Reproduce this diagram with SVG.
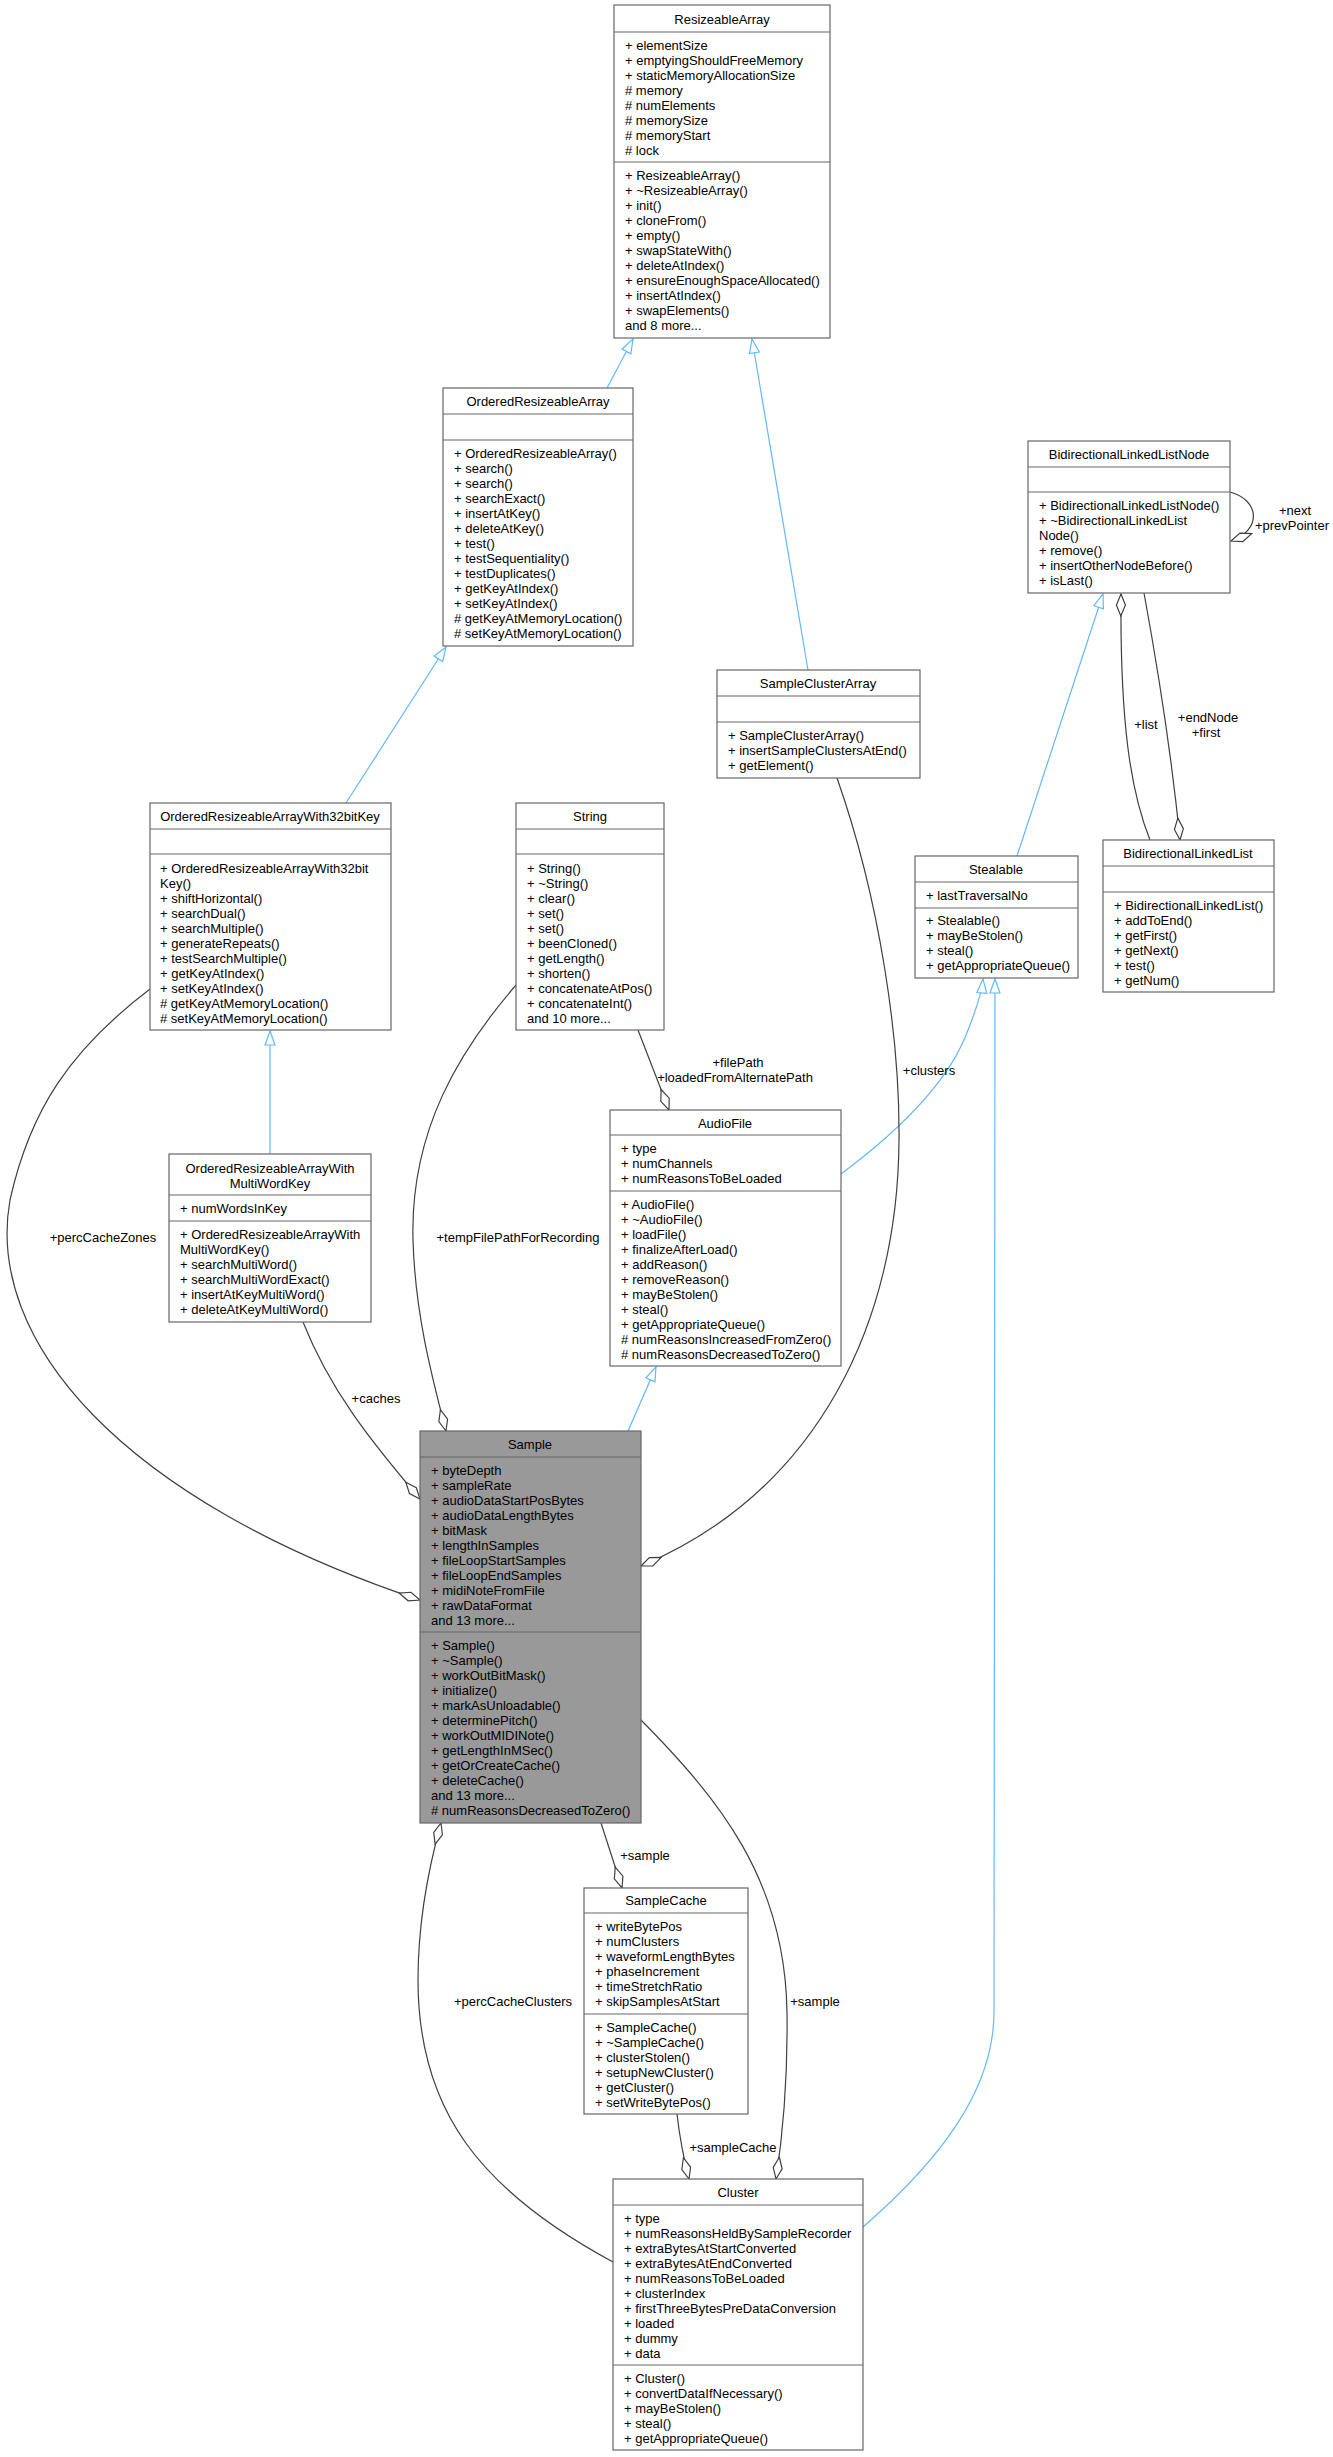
<svg xmlns="http://www.w3.org/2000/svg" width="1333" height="2457" viewBox="0 0 1333 2457">
<style>
text{font-family:"Liberation Sans",Arial,sans-serif;font-size:13px;fill:#000}
.t{text-anchor:middle}
.b{fill:#fff;stroke:#666;stroke-width:1.2}
.g{fill:#999;stroke:#666;stroke-width:1.2}
.s{stroke:#666;stroke-width:1.2}
.e{fill:none;stroke:#404040;stroke-width:1.2}
.i{fill:none;stroke:#63b8ff;stroke-width:1.2}
</style>
<defs>
<marker id="tri" markerUnits="userSpaceOnUse" markerWidth="16" markerHeight="12" viewBox="0 0 16 12" refX="15" refY="6" orient="auto"><path d="M1,1 L15,6 L1,11 Z" fill="#fff" stroke="#63b8ff" stroke-width="1.2"/></marker>
<marker id="dia" markerUnits="userSpaceOnUse" markerWidth="24" markerHeight="12" viewBox="0 0 24 12" refX="23" refY="6" orient="auto"><path d="M1,6 L12,1.5 L23,6 L12,10.5 Z" fill="#fff" stroke="#404040" stroke-width="1.2"/></marker>
</defs>

<g id="connectors">
<path class="i" d="M607,388 L633,339" marker-end="url(#tri)"/>
<path class="i" d="M808,670 L752,339" marker-end="url(#tri)"/>
<path class="i" d="M346,803 L446,647" marker-end="url(#tri)"/>
<path class="i" d="M270,1154 L270,1031" marker-end="url(#tri)"/>
<path class="i" d="M1017,856 L1103,594" marker-end="url(#tri)"/>
<path class="i" d="M628,1431 L656,1367" marker-end="url(#tri)"/>
<path class="i" d="M841,1174 C900,1130 950,1080 968,1030 C978,1005 982,990 983,979" marker-end="url(#tri)"/>
<path class="i" d="M863,2227 C940,2160 994,2090 994,2012 L995,979" marker-end="url(#tri)"/>
<path class="e" d="M1150,840 C1130,790 1120,720 1121,594" marker-end="url(#dia)"/>
<path class="e" d="M1144,593 C1160,680 1172,760 1180,840" marker-end="url(#dia)"/>
<path class="e" d="M1230,492 C1260,500 1262,530 1231,541" marker-end="url(#dia)"/>
<path class="e" d="M638,1030 L669,1110" marker-end="url(#dia)"/>
<path class="e" d="M837,778 C880,900 900,1040 899,1140 C898,1320 820,1490 641,1566" marker-end="url(#dia)"/>
<path class="e" d="M150,989 C70,1050 30,1110 10,1200 C-15,1340 120,1500 420,1600" marker-end="url(#dia)"/>
<path class="e" d="M303,1322 C330,1390 370,1440 420,1499" marker-end="url(#dia)"/>
<path class="e" d="M516,985 C460,1050 410,1130 413,1240 C415,1310 430,1370 446,1431" marker-end="url(#dia)"/>
<path class="e" d="M601,1823 L622,1888" marker-end="url(#dia)"/>
<path class="e" d="M640,1719 C720,1800 785,1880 787,2012 C788,2090 782,2140 776,2179" marker-end="url(#dia)"/>
<path class="e" d="M677,2114 C680,2140 684,2160 689,2179" marker-end="url(#dia)"/>
<path class="e" d="M613,2262 C480,2190 418,2110 418,1980 C418,1920 428,1870 441,1823" marker-end="url(#dia)"/>
<text class="t" x="1146" y="729">+list</text>
<text class="t" x="1208" y="722">+endNode</text>
<text class="t" x="1206" y="737">+first</text>
<text class="t" x="1295" y="515">+next</text>
<text class="t" x="1292" y="530">+prevPointer</text>
<text class="t" x="738" y="1067">+filePath</text>
<text class="t" x="735" y="1082">+loadedFromAlternatePath</text>
<text class="t" x="929" y="1075">+clusters</text>
<text class="t" x="103" y="1242">+percCacheZones</text>
<text class="t" x="376" y="1403">+caches</text>
<text class="t" x="518" y="1242">+tempFilePathForRecording</text>
<text class="t" x="645" y="1860">+sample</text>
<text class="t" x="815" y="2006">+sample</text>
<text class="t" x="733" y="2152">+sampleCache</text>
<text class="t" x="513" y="2006">+percCacheClusters</text>
</g>

<g id="ResizeableArray">
<rect class="b" x="614" y="5" width="216" height="333"/>
<line class="s" x1="614" y1="32" x2="830" y2="32"/><line class="s" x1="614" y1="162" x2="830" y2="162"/>
<text class="t" x="722" y="24">ResizeableArray</text>
<text x="625" y="50">+ elementSize</text><text x="625" y="65">+ emptyingShouldFreeMemory</text><text x="625" y="80">+ staticMemoryAllocationSize</text><text x="625" y="95"># memory</text><text x="625" y="110"># numElements</text><text x="625" y="125"># memorySize</text><text x="625" y="140"># memoryStart</text><text x="625" y="155"># lock</text>
<text x="625" y="180">+ ResizeableArray()</text><text x="625" y="195">+ ~ResizeableArray()</text><text x="625" y="210">+ init()</text><text x="625" y="225">+ cloneFrom()</text><text x="625" y="240">+ empty()</text><text x="625" y="255">+ swapStateWith()</text><text x="625" y="270">+ deleteAtIndex()</text><text x="625" y="285">+ ensureEnoughSpaceAllocated()</text><text x="625" y="300">+ insertAtIndex()</text><text x="625" y="315">+ swapElements()</text><text x="625" y="330">and 8 more...</text>
</g>

<g id="OrderedResizeableArray">
<rect class="b" x="443" y="388" width="190" height="258"/>
<line class="s" x1="443" y1="414" x2="633" y2="414"/><line class="s" x1="443" y1="440" x2="633" y2="440"/>
<text class="t" x="538" y="406">OrderedResizeableArray</text>
<text x="454" y="458">+ OrderedResizeableArray()</text><text x="454" y="473">+ search()</text><text x="454" y="488">+ search()</text><text x="454" y="503">+ searchExact()</text><text x="454" y="518">+ insertAtKey()</text><text x="454" y="533">+ deleteAtKey()</text><text x="454" y="548">+ test()</text><text x="454" y="563">+ testSequentiality()</text><text x="454" y="578">+ testDuplicates()</text><text x="454" y="593">+ getKeyAtIndex()</text><text x="454" y="608">+ setKeyAtIndex()</text><text x="454" y="623"># getKeyAtMemoryLocation()</text><text x="454" y="638"># setKeyAtMemoryLocation()</text>
</g>

<g id="BidirectionalLinkedListNode">
<rect class="b" x="1028" y="441" width="202" height="152"/>
<line class="s" x1="1028" y1="467" x2="1230" y2="467"/><line class="s" x1="1028" y1="492" x2="1230" y2="492"/>
<text class="t" x="1129" y="459">BidirectionalLinkedListNode</text>
<text x="1039" y="510">+ BidirectionalLinkedListNode()</text><text x="1039" y="525">+ ~BidirectionalLinkedList</text><text x="1039" y="540">Node()</text><text x="1039" y="555">+ remove()</text><text x="1039" y="570">+ insertOtherNodeBefore()</text><text x="1039" y="585">+ isLast()</text>
</g>

<g id="SampleClusterArray">
<rect class="b" x="717" y="670" width="203" height="108"/>
<line class="s" x1="717" y1="696" x2="920" y2="696"/><line class="s" x1="717" y1="722" x2="920" y2="722"/>
<text class="t" x="818" y="688">SampleClusterArray</text>
<text x="728" y="740">+ SampleClusterArray()</text><text x="728" y="755">+ insertSampleClustersAtEnd()</text><text x="728" y="770">+ getElement()</text>
</g>

<g id="OrderedResizeableArrayWith32bitKey">
<rect class="b" x="150" y="803" width="241" height="227"/>
<line class="s" x1="150" y1="829" x2="391" y2="829"/><line class="s" x1="150" y1="854" x2="391" y2="854"/>
<text class="t" x="270" y="821">OrderedResizeableArrayWith32bitKey</text>
<text x="160" y="873">+ OrderedResizeableArrayWith32bit</text><text x="160" y="888">Key()</text><text x="160" y="903">+ shiftHorizontal()</text><text x="160" y="918">+ searchDual()</text><text x="160" y="933">+ searchMultiple()</text><text x="160" y="948">+ generateRepeats()</text><text x="160" y="963">+ testSearchMultiple()</text><text x="160" y="978">+ getKeyAtIndex()</text><text x="160" y="993">+ setKeyAtIndex()</text><text x="160" y="1008"># getKeyAtMemoryLocation()</text><text x="160" y="1023"># setKeyAtMemoryLocation()</text>
</g>

<g id="String">
<rect class="b" x="516" y="803" width="148" height="227"/>
<line class="s" x1="516" y1="829" x2="664" y2="829"/><line class="s" x1="516" y1="854" x2="664" y2="854"/>
<text class="t" x="590" y="821">String</text>
<text x="527" y="873">+ String()</text><text x="527" y="888">+ ~String()</text><text x="527" y="903">+ clear()</text><text x="527" y="918">+ set()</text><text x="527" y="933">+ set()</text><text x="527" y="948">+ beenCloned()</text><text x="527" y="963">+ getLength()</text><text x="527" y="978">+ shorten()</text><text x="527" y="993">+ concatenateAtPos()</text><text x="527" y="1008">+ concatenateInt()</text><text x="527" y="1023">and 10 more...</text>
</g>

<g id="BidirectionalLinkedList">
<rect class="b" x="1103" y="840" width="171" height="152"/>
<line class="s" x1="1103" y1="866" x2="1274" y2="866"/><line class="s" x1="1103" y1="892" x2="1274" y2="892"/>
<text class="t" x="1188" y="858">BidirectionalLinkedList</text>
<text x="1114" y="910">+ BidirectionalLinkedList()</text><text x="1114" y="925">+ addToEnd()</text><text x="1114" y="940">+ getFirst()</text><text x="1114" y="955">+ getNext()</text><text x="1114" y="970">+ test()</text><text x="1114" y="985">+ getNum()</text>
</g>

<g id="Stealable">
<rect class="b" x="915" y="856" width="163" height="122"/>
<line class="s" x1="915" y1="882" x2="1078" y2="882"/><line class="s" x1="915" y1="908" x2="1078" y2="908"/>
<text class="t" x="996" y="874">Stealable</text>
<text x="926" y="900">+ lastTraversalNo</text>
<text x="926" y="925">+ Stealable()</text><text x="926" y="940">+ mayBeStolen()</text><text x="926" y="955">+ steal()</text><text x="926" y="970">+ getAppropriateQueue()</text>
</g>

<g id="AudioFile">
<rect class="b" x="610" y="1110" width="231" height="256"/>
<line class="s" x1="610" y1="1135" x2="841" y2="1135"/><line class="s" x1="610" y1="1191" x2="841" y2="1191"/>
<text class="t" x="725" y="1128">AudioFile</text>
<text x="621" y="1153">+ type</text><text x="621" y="1168">+ numChannels</text><text x="621" y="1183">+ numReasonsToBeLoaded</text>
<text x="621" y="1209">+ AudioFile()</text><text x="621" y="1224">+ ~AudioFile()</text><text x="621" y="1239">+ loadFile()</text><text x="621" y="1254">+ finalizeAfterLoad()</text><text x="621" y="1269">+ addReason()</text><text x="621" y="1284">+ removeReason()</text><text x="621" y="1299">+ mayBeStolen()</text><text x="621" y="1314">+ steal()</text><text x="621" y="1329">+ getAppropriateQueue()</text><text x="621" y="1344"># numReasonsIncreasedFromZero()</text><text x="621" y="1359"># numReasonsDecreasedToZero()</text>
</g>

<g id="OrderedResizeableArrayWithMultiWordKey">
<rect class="b" x="169" y="1154" width="202" height="168"/>
<line class="s" x1="169" y1="1195" x2="371" y2="1195"/><line class="s" x1="169" y1="1221" x2="371" y2="1221"/>
<text class="t" x="270" y="1173">OrderedResizeableArrayWith</text><text class="t" x="270" y="1188">MultiWordKey</text>
<text x="180" y="1213">+ numWordsInKey</text>
<text x="180" y="1239">+ OrderedResizeableArrayWith</text><text x="180" y="1254">MultiWordKey()</text><text x="180" y="1269">+ searchMultiWord()</text><text x="180" y="1284">+ searchMultiWordExact()</text><text x="180" y="1299">+ insertAtKeyMultiWord()</text><text x="180" y="1314">+ deleteAtKeyMultiWord()</text>
</g>

<g id="Sample">
<rect class="g" x="420" y="1431" width="221" height="392"/>
<line class="s" x1="420" y1="1457" x2="641" y2="1457"/><line class="s" x1="420" y1="1632" x2="641" y2="1632"/>
<text class="t" x="530" y="1449">Sample</text>
<text x="431" y="1475">+ byteDepth</text><text x="431" y="1490">+ sampleRate</text><text x="431" y="1505">+ audioDataStartPosBytes</text><text x="431" y="1520">+ audioDataLengthBytes</text><text x="431" y="1535">+ bitMask</text><text x="431" y="1550">+ lengthInSamples</text><text x="431" y="1565">+ fileLoopStartSamples</text><text x="431" y="1580">+ fileLoopEndSamples</text><text x="431" y="1595">+ midiNoteFromFile</text><text x="431" y="1610">+ rawDataFormat</text><text x="431" y="1625">and 13 more...</text>
<text x="431" y="1650">+ Sample()</text><text x="431" y="1665">+ ~Sample()</text><text x="431" y="1680">+ workOutBitMask()</text><text x="431" y="1695">+ initialize()</text><text x="431" y="1710">+ markAsUnloadable()</text><text x="431" y="1725">+ determinePitch()</text><text x="431" y="1740">+ workOutMIDINote()</text><text x="431" y="1755">+ getLengthInMSec()</text><text x="431" y="1770">+ getOrCreateCache()</text><text x="431" y="1785">+ deleteCache()</text><text x="431" y="1800">and 13 more...</text><text x="431" y="1815"># numReasonsDecreasedToZero()</text>
</g>

<g id="SampleCache">
<rect class="b" x="584" y="1888" width="164" height="226"/>
<line class="s" x1="584" y1="1913" x2="748" y2="1913"/><line class="s" x1="584" y1="2014" x2="748" y2="2014"/>
<text class="t" x="666" y="1905">SampleCache</text>
<text x="595" y="1931">+ writeBytePos</text><text x="595" y="1946">+ numClusters</text><text x="595" y="1961">+ waveformLengthBytes</text><text x="595" y="1976">+ phaseIncrement</text><text x="595" y="1991">+ timeStretchRatio</text><text x="595" y="2006">+ skipSamplesAtStart</text>
<text x="595" y="2032">+ SampleCache()</text><text x="595" y="2047">+ ~SampleCache()</text><text x="595" y="2062">+ clusterStolen()</text><text x="595" y="2077">+ setupNewCluster()</text><text x="595" y="2092">+ getCluster()</text><text x="595" y="2107">+ setWriteBytePos()</text>
</g>

<g id="Cluster">
<rect class="b" x="613" y="2179" width="250" height="271"/>
<line class="s" x1="613" y1="2205" x2="863" y2="2205"/><line class="s" x1="613" y1="2365" x2="863" y2="2365"/>
<text class="t" x="738" y="2197">Cluster</text>
<text x="624" y="2223">+ type</text><text x="624" y="2238">+ numReasonsHeldBySampleRecorder</text><text x="624" y="2253">+ extraBytesAtStartConverted</text><text x="624" y="2268">+ extraBytesAtEndConverted</text><text x="624" y="2283">+ numReasonsToBeLoaded</text><text x="624" y="2298">+ clusterIndex</text><text x="624" y="2313">+ firstThreeBytesPreDataConversion</text><text x="624" y="2328">+ loaded</text><text x="624" y="2343">+ dummy</text><text x="624" y="2358">+ data</text>
<text x="624" y="2383">+ Cluster()</text><text x="624" y="2398">+ convertDataIfNecessary()</text><text x="624" y="2413">+ mayBeStolen()</text><text x="624" y="2428">+ steal()</text><text x="624" y="2443">+ getAppropriateQueue()</text>
</g>
</svg>
